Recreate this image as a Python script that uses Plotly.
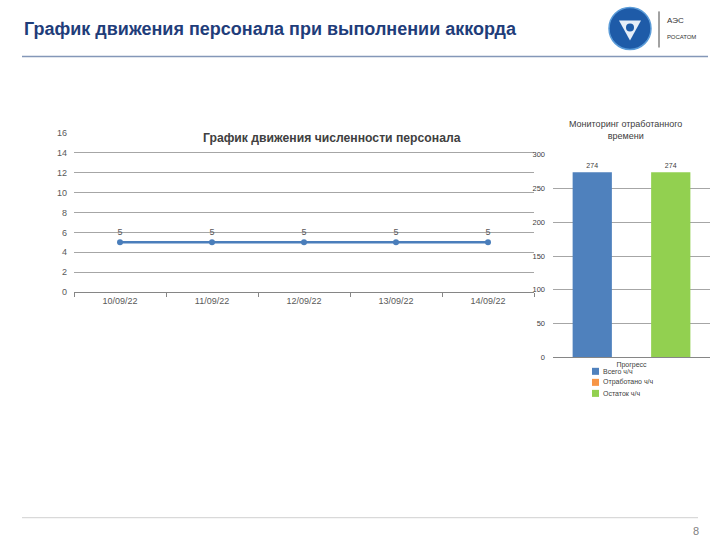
import plotly.graph_objects as go

# ---- data ----
dates = ["10/09/22", "11/09/22", "12/09/22", "13/09/22", "14/09/22"]
staff = [5, 5, 5, 5, 5]

bar_category = ["Прогресс"]
bar_series = ["Всего ч/ч", "Отработано ч/ч", "Остаток ч/ч"]
bar_values = [274, 0, 274]
bar_colors = ["#4F81BD", "#F79646", "#92D050"]

W, H = 720, 540
def px(x): return x / W
def py(y):
    yy = (y - 5.6) / 0.979
    return 1 - yy / H

fig = go.Figure()

# line chart
fig.add_trace(go.Scatter(
    x=dates, y=staff, mode="lines+markers+text",
    text=[str(v) for v in staff], textposition="top center",
    textfont=dict(size=9, color="#595959", family="Liberation Sans"),
    line=dict(color="#4A7EBB", width=2.5),
    marker=dict(size=6, color="#4A7EBB"),
    xaxis="x", yaxis="y", showlegend=False, cliponaxis=False,
))

# bar chart
for name, val, col in zip(bar_series, bar_values, bar_colors):
    fig.add_trace(go.Bar(
        x=bar_category, y=[val], name=name,
        marker=dict(color=col, line=dict(color=col, width=0)),
        text=[str(val)] if val else [""], textposition="outside",
        textfont=dict(size=7, color="#404040", family="Liberation Sans"),
        xaxis="x2", yaxis="y2", showlegend=False, cliponaxis=False,
    ))

tickfont = dict(size=9, color="#595959", family="Liberation Sans")
fig.update_layout(
    width=W, height=H, margin=dict(l=0, r=0, t=0, b=0),
    paper_bgcolor="white", plot_bgcolor="rgba(0,0,0,0)",
    barmode="group", bargap=0.25, bargroupgap=0,
    xaxis=dict(domain=[px(74), px(534)], anchor="y", type="category",
               range=[-0.5, len(dates) - 0.5],
               tickfont=tickfont, showgrid=False, showline=True,
               linecolor="#868686", ticks="outside", tickson="boundaries",
               ticklen=4, tickcolor="#868686", zeroline=False),
    yaxis=dict(domain=[py(292), py(133)], anchor="x", range=[0, 16], dtick=2,
               tickfont=tickfont, showgrid=True, gridcolor="#A6A6A6",
               gridwidth=1, zeroline=False, showline=False, ticks="",
               ticklabelstandoff=6),
    xaxis2=dict(domain=[px(553), px(710)], anchor="y2", type="category",
                tickfont=dict(size=7, color="#404040", family="Liberation Sans"),
                showgrid=False, showline=True, linecolor="#868686",
                ticks="", zeroline=False, ticklabelstandoff=0),
    yaxis2=dict(domain=[py(357), py(155)], anchor="x2", range=[0, 300], dtick=50,
                tickfont=dict(size=7.5, color="#404040", family="Liberation Sans"),
                showgrid=True, gridcolor="#A6A6A6", gridwidth=1,
                zeroline=False, showline=False, ticks="", ticklabelstandoff=7),
)

shapes = []
annotations = []

# slide header
annotations.append(dict(x=px(22), y=py(30), xref="paper", yref="paper",
                        text="<b>График движения персонала при выполнении аккорда</b>",
                        showarrow=False, xanchor="left", yanchor="middle",
                        font=dict(size=18, color="#1F3D7A", family="Liberation Sans")))
shapes.append(dict(type="line", xref="paper", yref="paper", x0=px(22), x1=px(708),
                   y0=py(57), y1=py(57), line=dict(color="#8497B8", width=1.5)))
# logo
shapes.append(dict(type="circle", xref="paper", yref="paper",
                   x0=px(609), x1=px(651), y0=py(50), y1=py(8),
                   fillcolor="#1E5BA8", line=dict(color="#5A9BD8", width=1.5)))
shapes.append(dict(type="path", xref="paper", yref="paper",
                   path=f"M {px(619)},{py(21)} L {px(641)},{py(21)} L {px(630)},{py(41)} Z",
                   fillcolor="#E6EEF8", line=dict(width=0)))
shapes.append(dict(type="circle", xref="paper", yref="paper",
                   x0=px(626), x1=px(634), y0=py(32), y1=py(24),
                   fillcolor="#1E5BA8", line=dict(width=0)))
shapes.append(dict(type="line", xref="paper", yref="paper", x0=px(659), x1=px(659),
                   y0=py(12), y1=py(48), line=dict(color="#444444", width=1)))
annotations.append(dict(x=px(665), y=py(21), xref="paper", yref="paper", text="АЭС",
                        showarrow=False, xanchor="left", yanchor="middle",
                        font=dict(size=8, color="#333333", family="Liberation Sans")))
annotations.append(dict(x=px(665), y=py(38), xref="paper", yref="paper", text="РОСАТОМ",
                        showarrow=False, xanchor="left", yanchor="middle",
                        font=dict(size=6, color="#333333", family="Liberation Sans")))

# line chart title
annotations.append(dict(x=px(332), y=py(138), xref="paper", yref="paper",
                        text="<b>График движения численности персонала</b>",
                        showarrow=False, xanchor="center", yanchor="middle",
                        font=dict(size=12.2, color="#404040", family="Liberation Sans")))

# bar chart title
annotations.append(dict(x=px(625), y=py(130), xref="paper", yref="paper",
                        text="Мониторинг отработанного<br>времени",
                        showarrow=False, xanchor="center", yanchor="middle",
                        font=dict(size=9, color="#404040", family="Liberation Sans")))

# bar legend
for i, (name, col) in enumerate(zip(bar_series, bar_colors)):
    yc = 371 + i * 11
    shapes.append(dict(type="rect", xref="paper", yref="paper",
                       x0=px(592), x1=px(599), y0=py(yc + 3.5), y1=py(yc - 3.5),
                       fillcolor=col, line=dict(width=0)))
    annotations.append(dict(x=px(601), y=py(yc), xref="paper", yref="paper", text=name,
                            showarrow=False, xanchor="left", yanchor="middle",
                            font=dict(size=7, color="#404040", family="Liberation Sans")))

# footer
shapes.append(dict(type="line", xref="paper", yref="paper", x0=px(22), x1=px(698),
                   y0=py(517), y1=py(517), line=dict(color="#D0D0D0", width=1)))
annotations.append(dict(x=px(696), y=py(530), xref="paper", yref="paper", text="8",
                        showarrow=False, xanchor="center", yanchor="middle",
                        font=dict(size=11, color="#7F7F7F", family="Liberation Sans")))

fig.update_layout(shapes=shapes, annotations=annotations)
fig.write_html("out.html", config={"displayModeBar": False},
               post_script="document.body.style.margin='0px';")
